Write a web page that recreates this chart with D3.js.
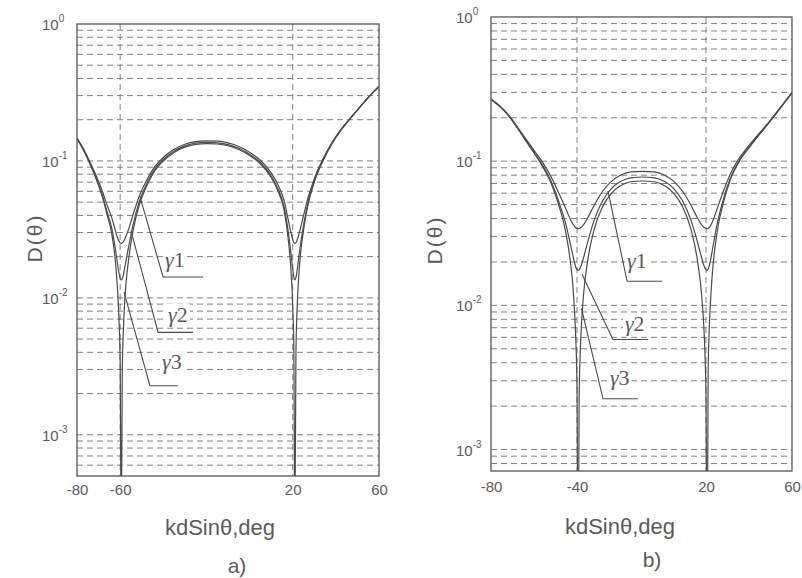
<!DOCTYPE html>
<html>
<head>
<meta charset="utf-8">
<script src="https://cdn.jsdelivr.net/npm/d3@7"></script>
<style>
  body { margin: 0; background: #fff; }
  svg { display: block; }
</style>
</head>
<body>
<svg id="chart" width="802" height="578"></svg>
<script>
// ---- panel a) : kdSin(theta) samples and D(theta) for gamma1..gamma3
const aX = [-80, -77, -74, -71, -68, -66, -64, -62, -61, -60.5, -60, -59.5, -59, -58.5, -58, -56, -54, -51, -48, -44,
  -40, -35, -30, -25, -20, -15, -10, -5, 0, 5, 10, 13, 16, 18, 19, 20, 20.5, 21, 21.5, 22,
  23, 25, 27, 30, 34, 38, 42, 46, 50, 55, 60];
const aG1 = [0.1471, 0.1226, 0.0982, 0.0772, 0.0586, 0.0472, 0.039, 0.0302, 0.0269, 0.0259,
  0.0252, 0.025, 0.0252, 0.0257, 0.0266, 0.032, 0.0406, 0.0559, 0.0706, 0.0905,
  0.106, 0.1216, 0.1324, 0.1383, 0.1402, 0.1393, 0.1353, 0.1275, 0.1157, 0.1011,
  0.0819, 0.0678, 0.0515, 0.0368, 0.0308, 0.0266, 0.0254, 0.025, 0.0253, 0.0262,
  0.0297, 0.0398, 0.0532, 0.0743, 0.1031, 0.1343, 0.1669, 0.1996, 0.2363, 0.2911, 0.3509];
const aG2 = [0.1456, 0.1208, 0.096, 0.0742, 0.0547, 0.0422, 0.0329, 0.0217, 0.0168, 0.0151,
  0.0139, 0.0135, 0.0138, 0.0147, 0.0162, 0.0239, 0.0343, 0.0511, 0.0664, 0.0868,
  0.1024, 0.118, 0.1287, 0.1347, 0.1366, 0.1356, 0.1317, 0.1238, 0.1121, 0.0974,
  0.078, 0.0635, 0.0463, 0.0298, 0.0223, 0.0162, 0.0142, 0.0135, 0.0141, 0.0157,
  0.0209, 0.0338, 0.0489, 0.0713, 0.1009, 0.1327, 0.1656, 0.1985, 0.2354, 0.2903, 0.3503];
const aG3 = [0.145, 0.12, 0.095, 0.073, 0.053, 0.04, 0.03, 0.017, 0.01, 0.0067,
  0.0034, 0.0002, 0.0029, 0.0058, 0.0087, 0.0194, 0.031, 0.0485, 0.064, 0.0844,
  0.0999, 0.1154, 0.1261, 0.1319, 0.1339, 0.1329, 0.129, 0.1213, 0.1096, 0.0951,
  0.0757, 0.0611, 0.0437, 0.0262, 0.0175, 0.0087, 0.0044, 0.0002, 0.004, 0.008,
  0.016, 0.031, 0.047, 0.07, 0.1, 0.132, 0.165, 0.198, 0.235, 0.29, 0.35];
const aXTicks = [-80, -60, 20, 60];

// ---- panel b)
const bX = [-80, -76, -72, -68, -64, -60, -56, -52, -48, -45, -43, -42, -41, -40.5, -40, -39.5, -39, -38.5, -38, -37,
  -35, -32, -28, -24, -20, -15, -9.5, -4, 1, 5, 9, 13, 16, 18, 19, 19.5, 20, 20.5, 21, 21.5,
  22, 23, 25, 28, 31, 35, 40, 45, 50, 55, 60];
const bG1 = [0.27, 0.2424, 0.2108, 0.1753, 0.1441, 0.119, 0.0981, 0.0778, 0.058, 0.046,
  0.0393, 0.0369, 0.035, 0.0344, 0.0341, 0.034, 0.0341, 0.0344, 0.0348, 0.0362,
  0.0405, 0.0495, 0.0621, 0.0725, 0.0796, 0.0842, 0.0851, 0.0842, 0.0796, 0.0725,
  0.0621, 0.0495, 0.0405, 0.0362, 0.0348, 0.0344, 0.0341, 0.034, 0.0342, 0.0347,
  0.0354, 0.038, 0.046, 0.0613, 0.0796, 0.1028, 0.1286, 0.1577, 0.193, 0.2404, 0.2999];
const bG2 = [0.269, 0.241, 0.2087, 0.1729, 0.1411, 0.1153, 0.0936, 0.0722, 0.0501, 0.0356,
  0.0263, 0.0225, 0.0194, 0.0183, 0.0177, 0.0175, 0.0177, 0.0182, 0.019, 0.0213,
  0.0276, 0.039, 0.0533, 0.0645, 0.072, 0.0767, 0.0777, 0.0767, 0.072, 0.0645,
  0.0533, 0.039, 0.0276, 0.0213, 0.019, 0.0182, 0.0177, 0.0175, 0.0178, 0.0188,
  0.0202, 0.0244, 0.0356, 0.0539, 0.0741, 0.0986, 0.1252, 0.155, 0.1908, 0.2386, 0.2985];
const bG3 = [0.268, 0.24, 0.208, 0.172, 0.14, 0.114, 0.092, 0.07, 0.047, 0.031,
  0.0196, 0.0142, 0.0083, 0.0055, 0.0028, 0.0001, 0.0023, 0.0047, 0.007, 0.0117,
  0.0206, 0.0337, 0.0486, 0.0598, 0.0673, 0.072, 0.0729, 0.072, 0.0673, 0.0598,
  0.0486, 0.0337, 0.0206, 0.0117, 0.007, 0.0047, 0.0023, 0.0001, 0.0034, 0.0068,
  0.01, 0.017, 0.031, 0.051, 0.072, 0.097, 0.124, 0.154, 0.19, 0.238, 0.298];
const bXTicks = [-80, -40, 20, 60];

const yDecades = [0, -1, -2, -3];
const seriesNames = ['1', '2', '3'];

// leader lines for the gamma labels, in data units [x, D]
const aLeaders = [
  { pts: [[-51, 0.056], [-40.1, 0.0142], [-21.6, 0.0142]], at: [-39.2, 0.0168] },
  { pts: [[-55, 0.031], [-42.4, 0.0056], [-26.2, 0.0056]], at: [-37.8, 0.0067] },
  { pts: [[-58.2, 0.011], [-46.2, 0.00228], [-33.2, 0.00228]], at: [-40.6, 0.003] }
];
const bLeaders = [
  { pts: [[-25.6, 0.0623], [-16.7, 0.0147], [-0.5, 0.0147]], at: [-16.7, 0.0181] },
  { pts: [[-37.7, 0.0165], [-23.3, 0.0058], [-7, 0.0058]], at: [-17.7, 0.0066] },
  { pts: [[-37.9, 0.0095], [-27.9, 0.00225], [-11.6, 0.00225]], at: [-24.7, 0.0028] }
];

const svg = d3.select('#chart');
const ink = '#4a4a4a';
const textInk = '#5a5a5a';

function drawPanel(p) {
  const x = d3.scaleLinear().domain([-80, 60]).range([p.left, p.right]);
  const y = d3.scaleLog().domain([p.yMin, 1]).range([p.bottom, p.top]);
  const g = svg.append('g');

  svg.append('clipPath').attr('id', 'clip-' + p.id)
    .append('rect')
    .attr('x', p.left).attr('y', p.top)
    .attr('width', p.right - p.left).attr('height', p.bottom - p.top);

  // dashed grid
  const hGrid = y.ticks().filter(v => v < 0.999 && v > p.yMin * 1.01);
  g.selectAll('.hgrid').data(hGrid).enter().append('line')
    .attr('x1', p.left).attr('x2', p.right)
    .attr('y1', d => y(d)).attr('y2', d => y(d))
    .attr('stroke', '#808080').attr('stroke-width', 1)
    .attr('stroke-dasharray', '6,4');
  g.selectAll('.vgrid').data(p.xTicks.slice(1, -1)).enter().append('line')
    .attr('x1', d => x(d)).attr('x2', d => x(d))
    .attr('y1', p.top).attr('y2', p.bottom)
    .attr('stroke', '#808080').attr('stroke-width', 1)
    .attr('stroke-dasharray', '6,4');

  // curves
  const line = d3.line()
    .x(d => x(d[0]))
    .y(d => y(d[1]))
    .curve(d3.curveMonotoneX);
  g.append('g').attr('clip-path', 'url(#clip-' + p.id + ')')
    .selectAll('path').data(p.series).enter().append('path')
    .attr('d', s => line(p.xs.map((v, i) => [v, s[i]])))
    .attr('fill', 'none')
    .attr('stroke', ink)
    .attr('stroke-width', 1.2);

  // frame
  g.append('rect')
    .attr('x', p.left).attr('y', p.top)
    .attr('width', p.right - p.left).attr('height', p.bottom - p.top)
    .attr('fill', 'none').attr('stroke', '#555').attr('stroke-width', 1.3);

  // leaders and gamma labels
  p.leaders.forEach((l, i) => {
    const lab = g.append('text')
      .attr('x', x(l.at[0])).attr('y', y(l.at[1]))
      .attr('font-family', 'Liberation Serif, serif')
      .attr('font-size', 22)
      .attr('fill', textInk);
    lab.append('tspan').attr('font-style', 'italic').text('γ');
    lab.append('tspan').text(seriesNames[i]);
    const bb = lab.node().getBBox();
    g.insert('rect', () => lab.node())
      .attr('x', bb.x - 2).attr('y', bb.y + 2)
      .attr('width', bb.width + 4).attr('height', bb.height - 3)
      .attr('fill', '#fff');
    g.append('path')
      .attr('d', d3.line().x(d => x(d[0])).y(d => y(d[1]))(l.pts))
      .attr('fill', 'none').attr('stroke', ink).attr('stroke-width', 1.1);
  });

  // y tick labels 10^n
  const yl = g.selectAll('.ylab').data(yDecades).enter().append('text')
    .attr('x', p.left - 35)
    .attr('y', d => y(Math.pow(10, d)) + 6)
    .attr('font-family', 'Liberation Sans, Arial, sans-serif')
    .attr('font-size', 15)
    .attr('fill', textInk);
  yl.append('tspan').text('10');
  yl.append('tspan').attr('font-size', 10).attr('dy', -8).text(d => d === 0 ? '0' : String(d));

  // x axis
  const xAxis = d3.axisBottom(x).tickValues(p.xTicks).tickSize(0).tickPadding(0)
    .tickFormat(d => String(d));
  const ax = g.append('g').attr('transform', 'translate(0,' + (p.bottom + p.tickGap) + ')').call(xAxis);
  ax.select('.domain').remove();
  ax.selectAll('text')
    .attr('font-family', 'Liberation Sans, Arial, sans-serif')
    .attr('font-size', 15)
    .attr('fill', textInk);

  g.append('text')
    .attr('x', p.titleX).attr('y', p.titleY)
    .attr('text-anchor', 'middle')
    .attr('font-family', 'Liberation Sans, Arial, sans-serif')
    .attr('font-size', 22)
    .attr('fill', textInk)
    .text('kdSinθ,deg');

  g.append('text')
    .attr('transform', 'translate(' + p.yTitleX + ',' + p.yTitleY + ') rotate(-90)')
    .attr('text-anchor', 'middle')
    .attr('font-family', 'Liberation Sans, Arial, sans-serif')
    .attr('font-size', 21)
    .attr('letter-spacing', 2)
    .attr('fill', textInk)
    .text('D(θ)');

  g.append('text')
    .attr('x', p.capX).attr('y', p.capY)
    .attr('text-anchor', 'middle')
    .attr('font-family', 'Liberation Sans, Arial, sans-serif')
    .attr('font-size', 21)
    .attr('fill', textInk)
    .text(p.caption);
}

drawPanel({
  id: 'a', left: 77, right: 379, top: 24, bottom: 476, yMin: 5e-4, tickGap: 8,
  xs: aX, series: [aG1, aG2, aG3], xTicks: aXTicks, leaders: aLeaders,
  titleX: 220, titleY: 535, yTitleX: 42, yTitleY: 238, capX: 237, capY: 573, caption: 'a)'
});
drawPanel({
  id: 'b', left: 491, right: 792, top: 17, bottom: 471, yMin: 7.1e-4, tickGap: 10,
  xs: bX, series: [bG1, bG2, bG3], xTicks: bXTicks, leaders: bLeaders,
  titleX: 620, titleY: 534, yTitleX: 442, yTitleY: 240, capX: 652, capY: 567, caption: 'b)'
});
</script>
</body>
</html>
